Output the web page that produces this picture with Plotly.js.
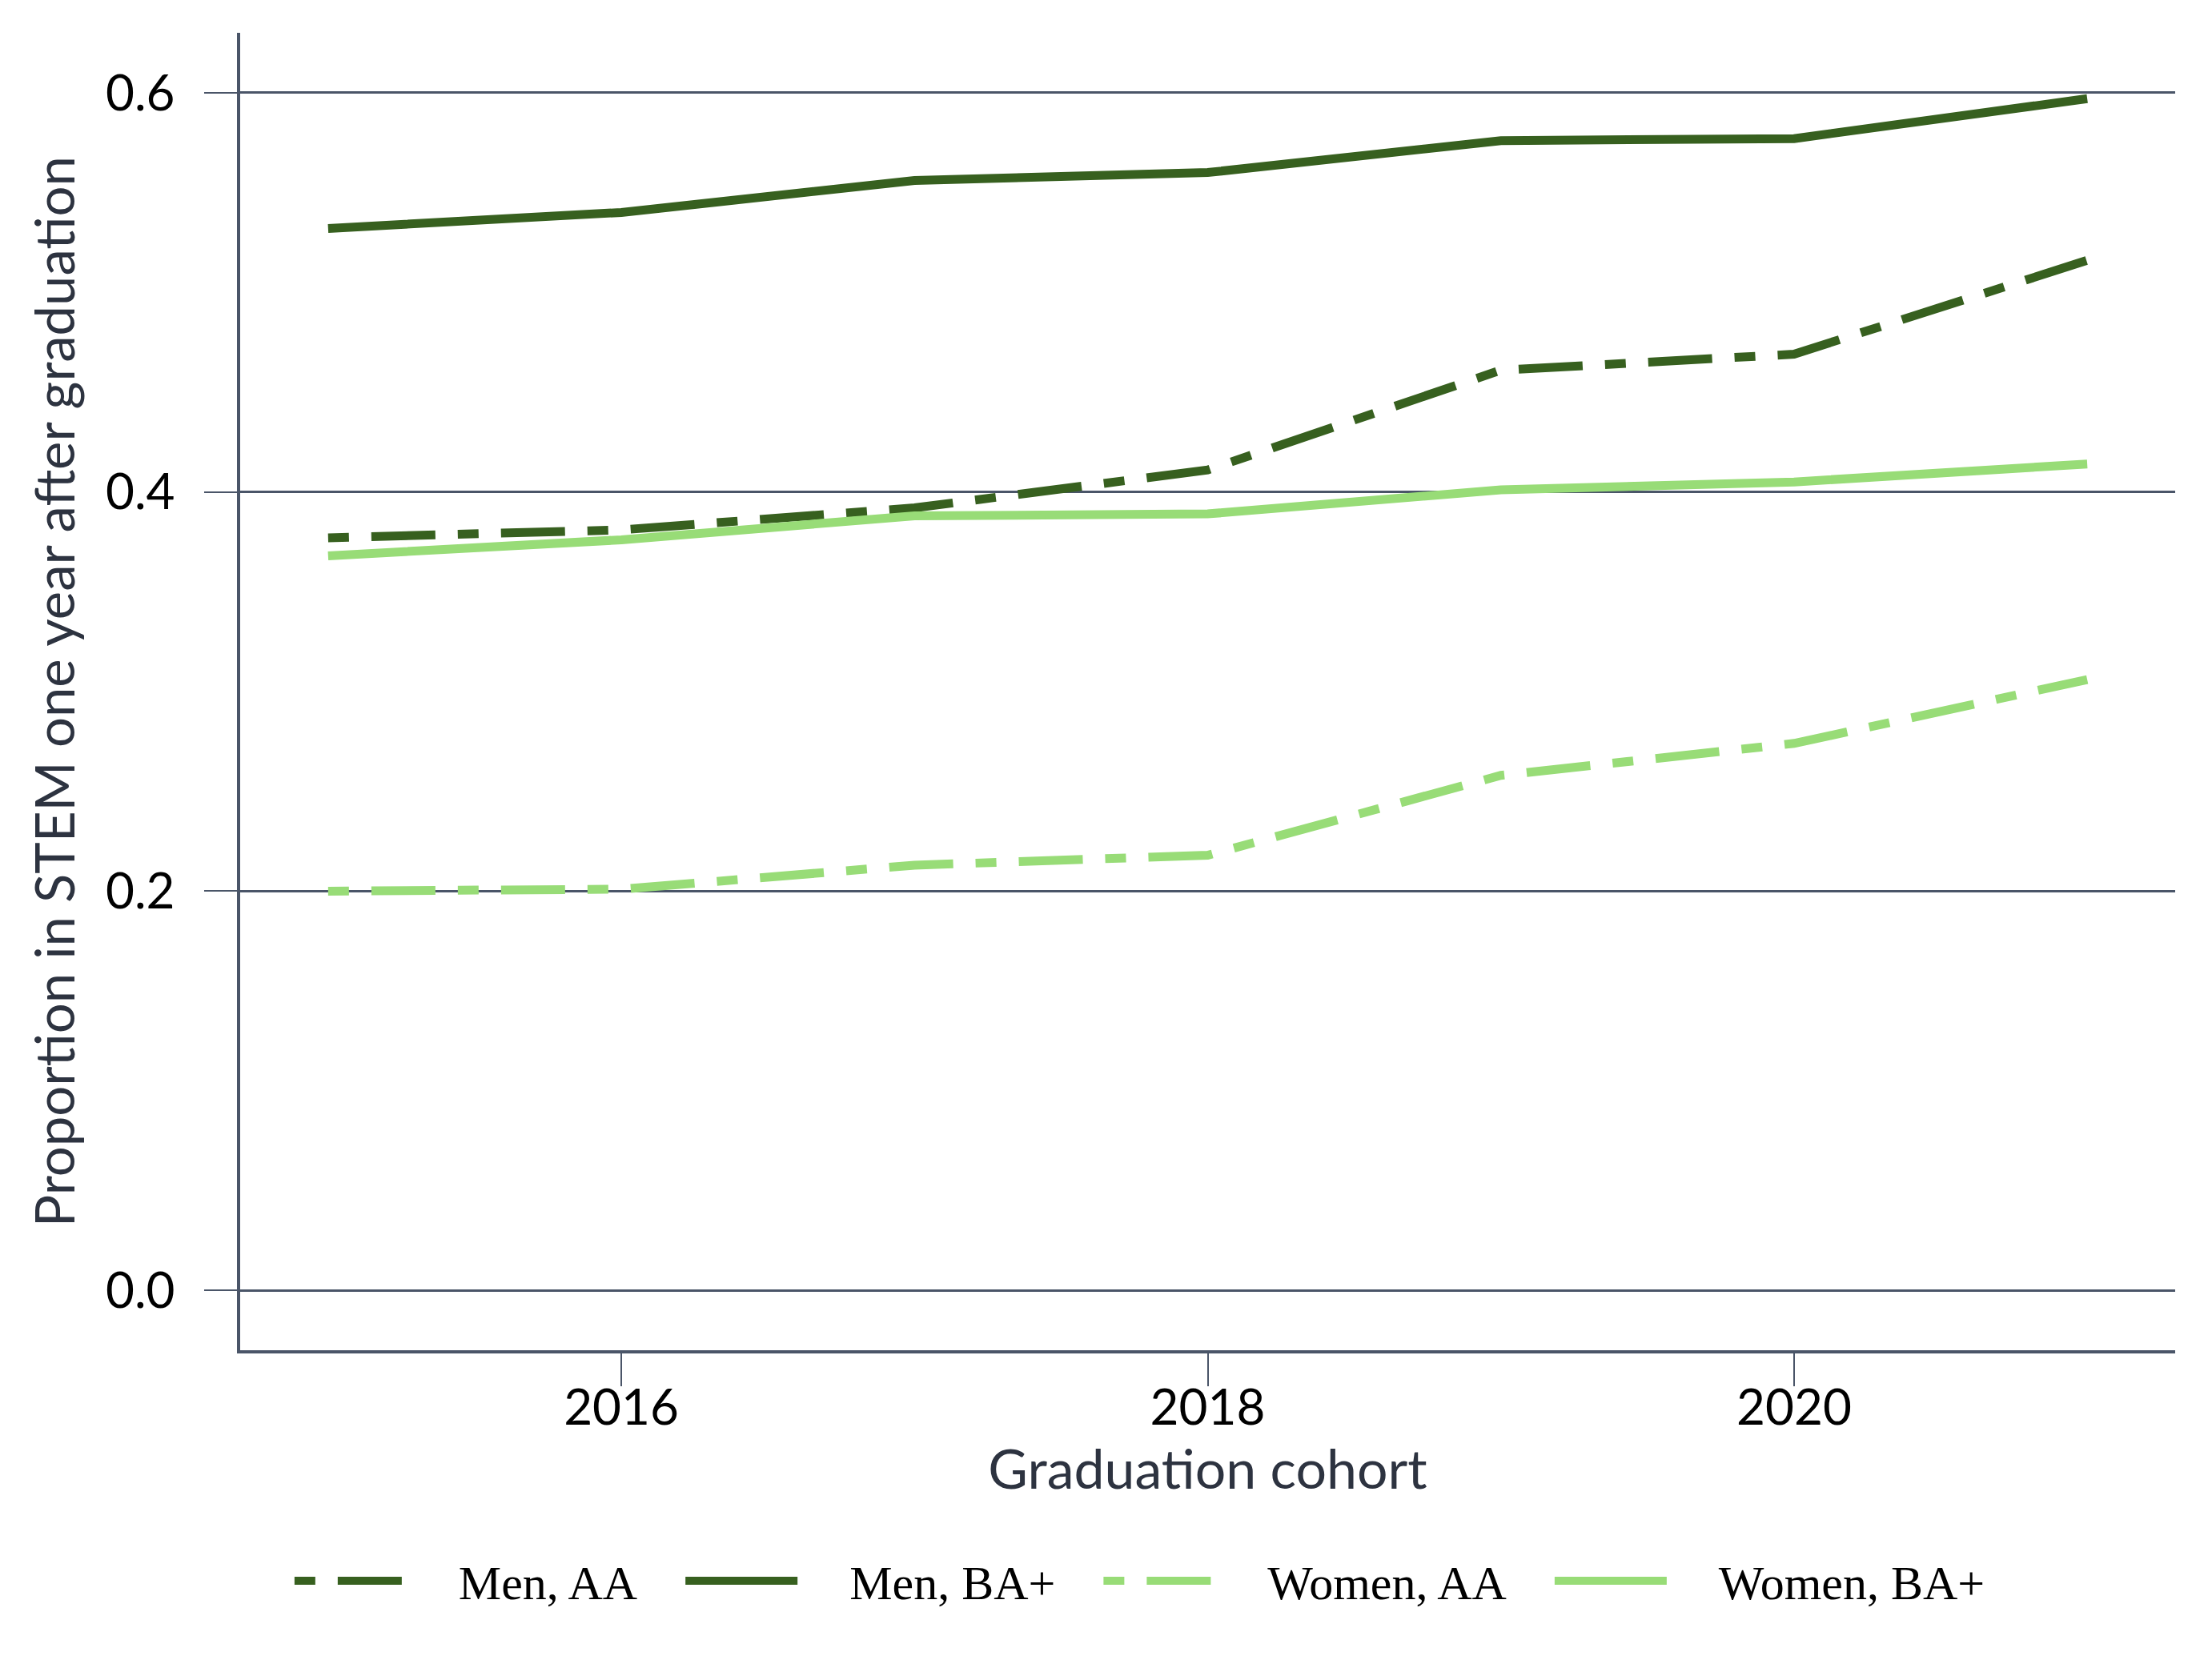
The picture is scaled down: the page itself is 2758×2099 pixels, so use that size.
<!DOCTYPE html>
<html>
<head>
<meta charset="utf-8">
<script src="https://cdn.plot.ly/plotly-3.0.1.min.js"></script>
<style>
  html, body { margin: 0; padding: 0; background: #ffffff; }
  #plot { width: 2758px; height: 2099px; }
</style>
</head>
<body>
<div id="plot"></div>
<script>
// cohort years and the four series
var years = [2015, 2016, 2017, 2018, 2019, 2020, 2021]
var menAA = [0.377, 0.381, 0.392, 0.411, 0.461, 0.469, 0.516]
var menBA = [0.532, 0.540, 0.556, 0.560, 0.576, 0.577, 0.597]
var womenAA = [0.200, 0.201, 0.213, 0.218, 0.258, 0.274, 0.306]
var womenBA = [0.368, 0.376, 0.388, 0.389, 0.401, 0.405, 0.414]

var seriesNames = ['Men, AA', 'Men, BA+', 'Women, AA', 'Women, BA+']
var xTicks = [2016, 2018, 2020]
var yTicks = [0.0, 0.2, 0.4, 0.6]
var yTickText = ['0.0', '0.2', '0.4', '0.6']

var darkGreen = '#37601f'
var lightGreen = '#98dc77'
var slate = '#4a5568'
var dashDot = '26px,28px,80px,28px'

// legend text sits well away from the key line, so pad it
var padBefore = '\u00a0\u00a0\u00a0\u00a0'
var padAfter = '\u00a0\u00a0\u00a0\u200a'

function line(name, y, color, dash) {
  return {
    x: years,
    y: y,
    name: padBefore + name + padAfter,
    type: 'scatter',
    mode: 'lines',
    line: { color: color, width: 11, dash: dash }
  }
}

var data = [
  line(seriesNames[0], menAA, darkGreen, dashDot),
  line(seriesNames[1], menBA, darkGreen, 'solid'),
  line(seriesNames[2], womenAA, lightGreen, dashDot),
  line(seriesNames[3], womenBA, lightGreen, 'solid')
]

var layout = {
  width: 2758,
  height: 2099,
  margin: { l: 300, r: 41, t: 41, b: 412 },
  paper_bgcolor: '#ffffff',
  plot_bgcolor: '#ffffff',
  showlegend: true,
  xaxis: {
    range: [2014.7, 2021.3],
    tickvals: xTicks,
    ticktext: xTicks.map(String),
    showgrid: false,
    zeroline: false,
    showline: true,
    linecolor: slate,
    linewidth: 4,
    ticks: 'outside',
    ticklen: 41,
    tickwidth: 2,
    tickcolor: slate,
    ticklabelstandoff: -26,
    tickfont: { family: 'Lato, sans-serif', size: 62, color: '#000000' },
    title: {
      text: 'Graduation cohort',
      standoff: 20,
      font: { family: 'Lato, sans-serif', size: 68, color: '#2d3340' }
    }
  },
  yaxis: {
    range: [-0.03, 0.63],
    tickvals: yTicks,
    ticktext: yTickText,
    showgrid: true,
    gridcolor: slate,
    gridwidth: 3,
    zeroline: false,
    showline: true,
    linecolor: slate,
    linewidth: 4,
    ticks: 'outside',
    ticklen: 41,
    tickwidth: 2,
    tickcolor: slate,
    ticklabelstandoff: 24,
    tickfont: { family: 'Lato, sans-serif', size: 62, color: '#000000' },
    title: {
      text: 'Proportion in STEM one year after graduation',
      standoff: 18,
      font: { family: 'Lato, sans-serif', size: 67, color: '#2d3340' }
    }
  },
  legend: {
    orientation: 'h',
    x: 0.026,
    xanchor: 'left',
    y: -0.175,
    yanchor: 'middle',
    itemwidth: 140,
    font: { family: '"Liberation Serif", serif', size: 60, color: '#000000' },
    bgcolor: 'rgba(0,0,0,0)'
  }
}

Plotly.newPlot('plot', data, layout, { displayModeBar: false, staticPlot: true })
</script>
</body>
</html>
